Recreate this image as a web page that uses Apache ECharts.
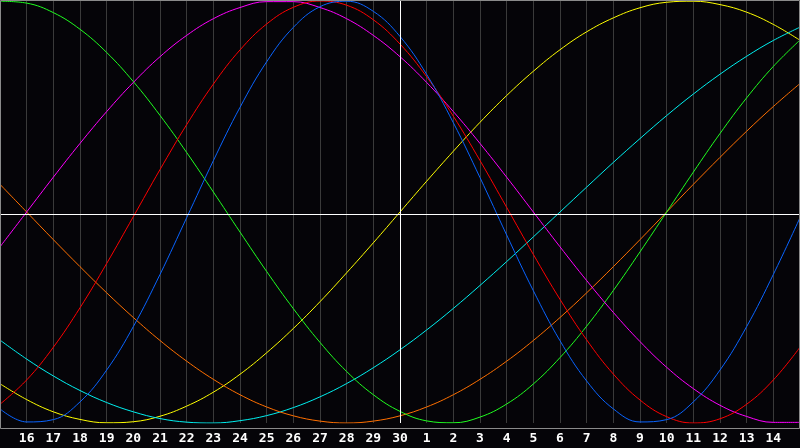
<!DOCTYPE html>
<html>
<head>
<meta charset="utf-8">
<script src="https://cdn.jsdelivr.net/npm/echarts@6/dist/echarts.min.js"></script>
<style>html,body{margin:0;padding:0;background:#050408;}#c{width:800px;height:448px;}</style>
</head>
<body>
<div id="c"></div>
<script>
// Day labels (index 0 .. 30)
var days = ['15','16','17','18','19','20','21','22','23','24','25','26','27','28','29','30','1','2','3','4','5','6','7','8','9','10','11','12','13','14','15'];
var todayIndex = 15;

// Series values, one per day
var blue = [-0.933,-0.995,-0.984,-0.900,-0.749,-0.543,-0.296,-0.027,0.243,0.496,0.712,0.875,0.973,0.999,0.951,0.832,0.652,0.423,0.163,-0.109,-0.373,-0.610,-0.801,-0.933,-0.995,-0.984,-0.900,-0.749,-0.543,-0.296,-0.027];
var red = [-0.911,-0.796,-0.641,-0.454,-0.244,-0.022,0.201,0.414,0.606,0.768,0.891,0.970,1.000,0.980,0.911,0.796,0.641,0.454,0.244,0.022,-0.201,-0.414,-0.606,-0.768,-0.891,-0.970,-1.000,-0.980,-0.911,-0.796,-0.641];
var green = [0.999,0.990,0.945,0.866,0.756,0.618,0.458,0.282,0.095,-0.095,-0.282,-0.458,-0.618,-0.756,-0.866,-0.945,-0.990,-0.999,-0.972,-0.910,-0.815,-0.690,-0.541,-0.372,-0.189,0.000,0.189,0.372,0.541,0.690,0.815];
var magenta = [-0.165,0.000,0.165,0.325,0.476,0.614,0.736,0.837,0.916,0.969,0.997,0.997,0.969,0.916,0.837,0.736,0.614,0.476,0.325,0.165,0.000,-0.165,-0.325,-0.476,-0.614,-0.736,-0.837,-0.916,-0.969,-0.997,-0.997];
var yellow = [-0.814,-0.889,-0.947,-0.983,-0.999,-0.994,-0.968,-0.920,-0.854,-0.769,-0.667,-0.552,-0.425,-0.288,-0.146,0.000,0.146,0.288,0.425,0.552,0.667,0.769,0.854,0.920,0.968,0.994,0.999,0.983,0.947,0.889,0.814];
var cyan = [-0.607,-0.697,-0.777,-0.846,-0.903,-0.947,-0.979,-0.996,-1.000,-0.989,-0.965,-0.927,-0.876,-0.813,-0.738,-0.653,-0.559,-0.457,-0.348,-0.235,-0.118,0.000,0.118,0.235,0.348,0.457,0.559,0.653,0.738,0.813,0.876];
var orange = [0.131,0.000,-0.131,-0.259,-0.383,-0.500,-0.609,-0.707,-0.793,-0.866,-0.924,-0.966,-0.991,-1.000,-0.991,-0.966,-0.924,-0.866,-0.793,-0.707,-0.609,-0.500,-0.383,-0.259,-0.131,0.000,0.131,0.259,0.383,0.500,0.609];

var seriesDefs = [
  {name:'yellow', data:yellow, color:'#ffff00'},
  {name:'cyan', data:cyan, color:'#00f0f0'},
  {name:'orange', data:orange, color:'#ff7000'},
  {name:'green', data:green, color:'#20ff20'},
  {name:'magenta', data:magenta, color:'#ff00ff'},
  {name:'red', data:red, color:'#ff0000'},
  {name:'blue', data:blue, color:'#0a64ff'}
];

function pairs(arr){ return arr.map(function(v,i){ return [i,v]; }); }

var series = seriesDefs.map(function(s){
  return {
    type:'line', name:s.name, data:pairs(s.data), smooth:0.4, showSymbol:false, symbol:'none',
    lineStyle:{color:s.color, width:1}, silent:true, animation:false, z:3
  };
});
series.push({
  type:'line', data:[], silent:true, animation:false, z:2,
  markLine:{silent:true, symbol:'none', label:{show:false}, animation:false,
    lineStyle:{color:'#ffffff', width:1, type:'solid'},
    data:[{xAxis:todayIndex},{yAxis:-0.01}]}
});

var chart = echarts.init(document.getElementById('c'), null, {renderer:'canvas'});
chart.setOption({
  backgroundColor:'#050408',
  animation:false,
  grid:{left:0, right:0, top:1, bottom:25},
  xAxis:{type:'value', min:0, max:30, interval:1,
    axisLine:{show:false}, axisTick:{show:false},
    splitLine:{show:true, lineStyle:{color:'#3a3a3a', width:1}},
    axisLabel:{showMinLabel:false, showMaxLabel:false, color:'#ffffff', fontWeight:'bold',
      fontFamily:'DejaVu Sans Mono', fontSize:13, margin:9,
      formatter:function(v){ return days[v]; }}
  },
  yAxis:{type:'value', min:-1, max:1, show:false, splitLine:{show:false}},
  graphic:[{type:'rect', shape:{x:0.5, y:0.5, width:799, height:428}, style:{fill:'none', stroke:'#8a8a8a', lineWidth:1}, silent:true, z:10}],
  series:series
});
</script>
</body>
</html>
